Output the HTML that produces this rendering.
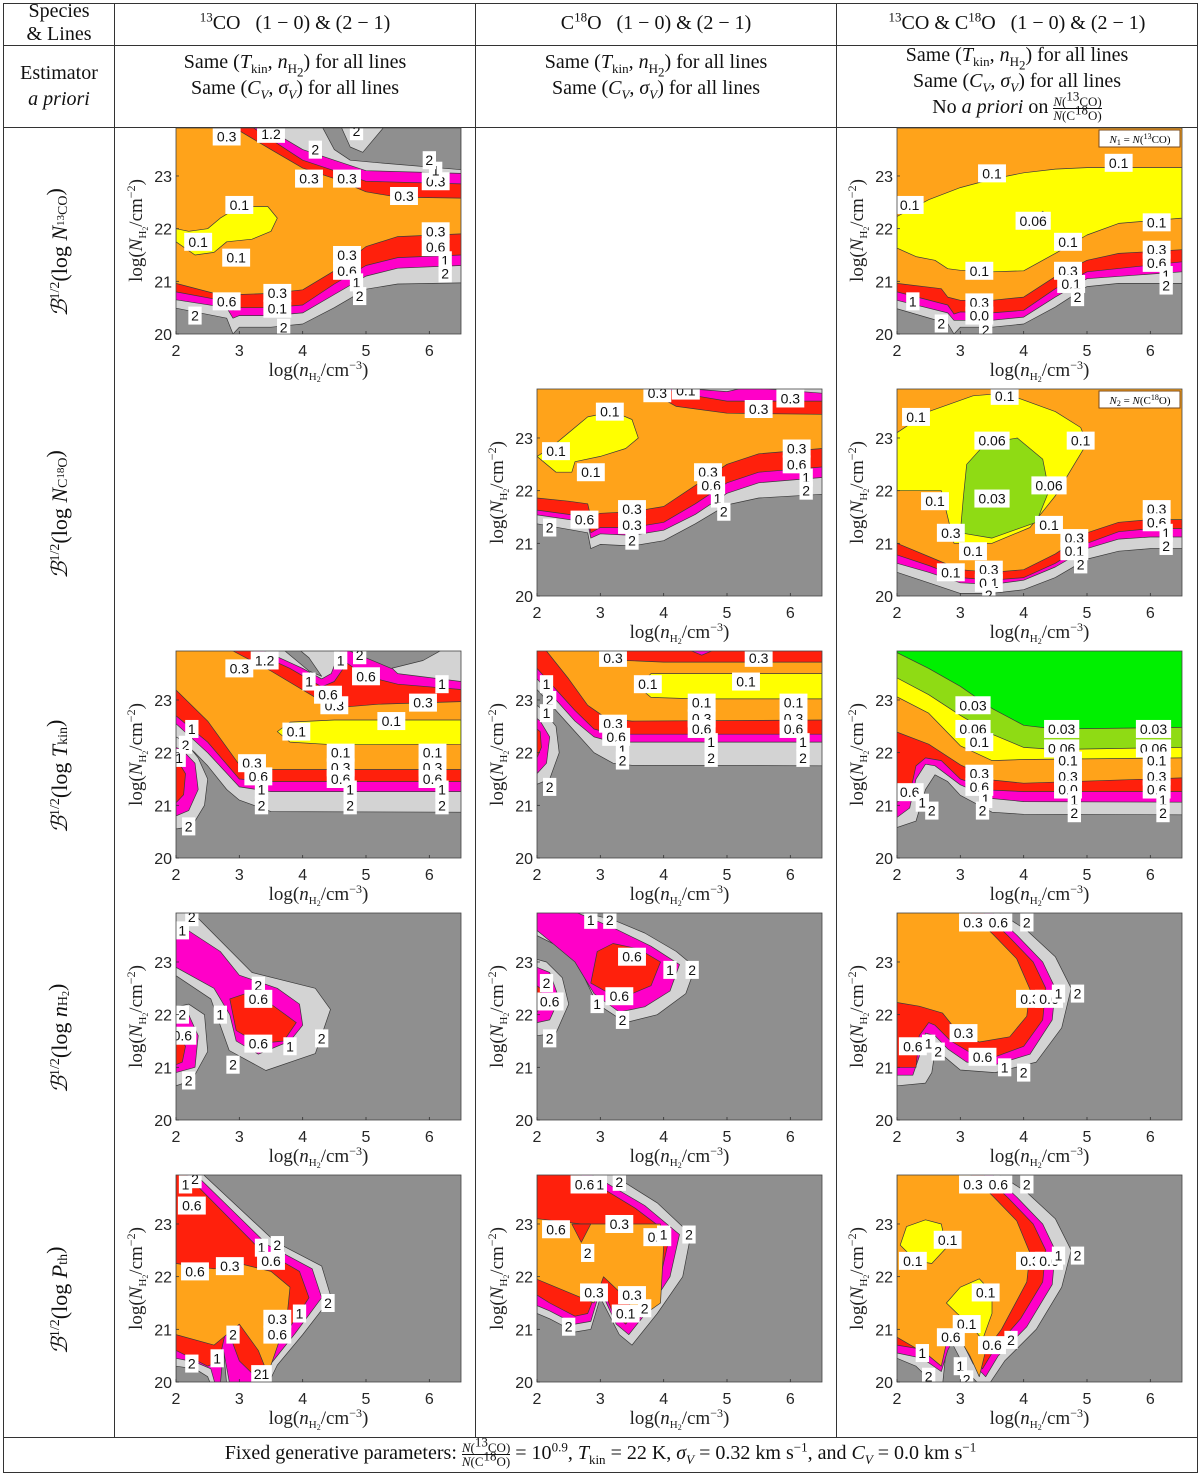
<!DOCTYPE html>
<html><head><meta charset="utf-8"><title>Bias maps</title>
<style>
html,body{margin:0;padding:0;background:#fff;}
#page{position:relative;width:1200px;height:1476px;overflow:hidden;font-family:"Liberation Serif",serif;color:#111;}
.hl{position:absolute;height:1px;background:#333;}
.vl{position:absolute;width:1px;background:#333;}
.ht{position:absolute;text-align:center;font-size:20px;line-height:24px;white-space:nowrap;}
.ht sub,.ht sup{font-size:13px;line-height:0;}
.frac{display:inline-block;vertical-align:middle;text-align:center;font-size:13px;line-height:13px;}
.frac span{display:block;}
.frac .num{border-bottom:1px solid #111;}
svg{position:absolute;left:0;top:0;}
</style></head><body>
<div id="page">
<div class="hl" style="left:3px;top:3px;width:1194px"></div>
<div class="hl" style="left:3px;top:45px;width:1194px"></div>
<div class="hl" style="left:3px;top:127px;width:1194px"></div>
<div class="hl" style="left:3px;top:1437px;width:1194px"></div>
<div class="hl" style="left:3px;top:1472px;width:1194px"></div>
<div class="vl" style="left:3px;top:3px;height:1470px"></div>
<div class="vl" style="left:1197px;top:3px;height:1470px"></div>
<div class="vl" style="left:114px;top:3px;height:1434px"></div>
<div class="vl" style="left:475px;top:3px;height:1434px"></div>
<div class="vl" style="left:836px;top:3px;height:1434px"></div>

<div class="ht" style="left:4px;top:0px;width:110px;line-height:23px">Species<br>&amp; Lines</div>
<div class="ht" style="left:115px;top:11px;width:360px"><sup>13</sup>CO&nbsp;&nbsp; (1 − 0) &amp; (2 − 1)</div>
<div class="ht" style="left:476px;top:11px;width:360px">C<sup>18</sup>O&nbsp;&nbsp; (1 − 0) &amp; (2 − 1)</div>
<div class="ht" style="left:837px;top:11px;width:360px"><sup>13</sup>CO &amp; C<sup>18</sup>O&nbsp;&nbsp; (1 − 0) &amp; (2 − 1)</div>

<div class="ht" style="left:4px;top:60px;width:110px;line-height:26px">Estimator<br><i>a priori</i></div>
<div class="ht" style="left:115px;top:49px;width:360px;line-height:26px">Same (<i>T</i><sub>kin</sub>, <i>n</i><sub>H<sub>2</sub></sub>) for all lines<br>Same (<i>C<sub>V</sub></i>, <i>σ<sub>V</sub></i>) for all lines</div>
<div class="ht" style="left:476px;top:49px;width:360px;line-height:26px">Same (<i>T</i><sub>kin</sub>, <i>n</i><sub>H<sub>2</sub></sub>) for all lines<br>Same (<i>C<sub>V</sub></i>, <i>σ<sub>V</sub></i>) for all lines</div>
<div class="ht" style="left:837px;top:42px;width:360px;line-height:26px">Same (<i>T</i><sub>kin</sub>, <i>n</i><sub>H<sub>2</sub></sub>) for all lines<br>Same (<i>C<sub>V</sub></i>, <i>σ<sub>V</sub></i>) for all lines<br>No <i>a priori</i> on <span class="frac"><span class="num"><i>N</i>(<sup>13</sup>CO)</span><span><i>N</i>(C<sup>18</sup>O)</span></span></div>

<div class="ht" style="left:4px;top:1441px;width:1193px">Fixed generative parameters: <span class="frac"><span class="num"><i>N</i>(<sup>13</sup>CO)</span><span><i>N</i>(C<sup>18</sup>O)</span></span> = 10<sup>0.9</sup>, <i>T</i><sub>kin</sub> = 22 K, <i>σ<sub>V</sub></i> = 0.32 km s<sup>−1</sup>, and <i>C<sub>V</sub></i> = 0.0 km s<sup>−1</sup></div>

<svg id="fig" width="1200" height="1476" xmlns="http://www.w3.org/2000/svg"></svg>
</div>
<script>
// ---- axis domain ----
const xTicks = [2, 3, 4, 5, 6];
const yTicks = [20, 21, 22, 23];
const xDomain = [2, 6.5];
const yDomain = [20, 23.93];

// ---- panel data: [colorKey, type, points]; "A" = region above curve, "P" = closed region ----
const p11Layers = [
 ["lg","A",[[2,20.49],[2.8,20.3],[2.9,20.0],[3,20.13],[3.5,20.13],[4,20.19],[4.5,20.5],[5,20.85],[5.5,20.95],[6.5,20.97]]],
 ["m","A",[[2,20.65],[2.8,20.5],[2.9,20.3],[3,20.35],[3.5,20.35],[4,20.4],[4.5,20.75],[5,21.1],[5.5,21.25],[6.5,21.3]]],
 ["r","A",[[2,20.8],[2.8,20.62],[2.9,20.45],[3,20.5],[3.5,20.5],[4,20.55],[4.5,20.95],[5,21.3],[5.5,21.45],[6.5,21.5]]],
 ["o","A",[[2,20.96],[2.8,20.71],[3,20.75],[3.5,20.77],[4,20.84],[4.5,21.2],[5,21.66],[5.5,21.85],[6.5,21.9]]],
 ["r","A",[[2,24.2],[2.85,24.2],[2.9,23.93],[3.5,23.5],[4,23.15],[4.5,22.95],[5,22.7],[5.5,22.6],[6.5,22.58]]],
 ["m","A",[[2,24.2],[3.15,24.2],[3.2,23.93],[4,23.3],[4.5,23.1],[5,22.9],[6.5,22.85]]],
 ["lg","A",[[2,24.2],[3.35,24.2],[3.4,23.93],[4,23.5],[4.5,23.3],[5,23.1],[6.5,23.05]]],
 ["g","P",[[4.3,23.95],[4.5,23.5],[4.75,23.3],[5.2,23.25],[6.5,23.12],[6.5,23.95]]],
 ["lg","P",[[4.6,23.95],[4.75,23.55],[4.95,23.45],[5.3,23.95]]],
 ["y","P",[[2,21.75],[2.3,21.5],[2.6,21.55],[2.8,21.75],[3.2,21.8],[3.5,21.95],[3.6,22.2],[3.45,22.42],[3.0,22.42],[2.7,22.2],[2.5,22.0],[2.2,21.95],[2,22.0]]]
];
const p11Labels = [[2.3,20.35,"2"],[2.8,20.62,"0.6"],[3.6,20.78,"0.3"],[3.6,20.48,"0.1"],[3.7,20.12,"2"],[4.7,21.5,"0.3"],[4.7,21.2,"0.6"],[4.85,20.98,"1"],[4.9,20.72,"2"],[6.1,21.95,"0.3"],[6.1,21.65,"0.6"],[6.25,21.4,"1"],[6.25,21.15,"2"],[2.35,21.75,"0.1"],[3.0,22.45,"0.1"],[2.95,21.45,"0.1"],[4.1,22.95,"0.3"],[4.7,22.95,"0.3"],[5.6,22.62,"0.3"],[6.1,22.9,"0.3"],[6.1,23.1,"1"],[6.0,23.3,"2"],[2.8,23.75,"0.3"],[3.5,23.8,"1.2"],[4.2,23.5,"2"],[4.85,23.85,"2"]];

const p13Layers = [
 ["lg","A",[[2,20.48],[2.8,20.2],[2.9,20.0],[3,20.13],[3.5,20.13],[4,20.19],[4.5,20.51],[5,20.9],[5.5,20.96],[6.5,20.96]]],
 ["m","A",[[2,20.64],[2.8,20.4],[2.9,20.26],[3.5,20.26],[4,20.32],[4.5,20.7],[5,21.05],[6.5,21.18]]],
 ["r","A",[[2,20.8],[2.8,20.55],[2.9,20.38],[3,20.42],[3.5,20.4],[4,20.45],[4.5,20.86],[5,21.18],[6.5,21.37]]],
 ["o","A",[[2,20.96],[2.7,20.86],[2.8,20.7],[3,20.64],[3.5,20.64],[4,20.7],[4.5,21.09],[5,21.4],[5.5,21.53],[6.5,21.6]]],
 ["y","P",[[2,22.23],[2.5,22.55],[3,22.78],[3.5,22.94],[4,23.06],[4.5,23.13],[5,23.16],[6.5,23.16],[6.5,22.2],[5.5,22.1],[5,21.88],[4.5,21.53],[4,21.2],[3.5,21.18],[3,21.21],[2.8,21.24],[2.6,21.4],[2.3,21.47],[2,21.63]]],
 ["yg","P",[[4.02,22.0],[4.3,22.33],[4.42,22.2],[4.1,21.98]]]
];
const p13Labels = [[2.2,22.45,"0.1"],[3.5,23.05,"0.1"],[5.5,23.25,"0.1"],[4.15,22.15,"0.06"],[6.1,22.12,"0.1"],[4.7,21.75,"0.1"],[3.3,21.2,"0.1"],[6.1,21.6,"0.3"],[6.1,21.35,"0.6"],[6.25,21.12,"1"],[6.25,20.92,"2"],[4.7,21.2,"0.3"],[4.75,20.95,"0.1"],[4.85,20.7,"2"],[3.3,20.6,"0.3"],[3.3,20.35,"0.0"],[3.4,20.08,"2"],[2.25,20.62,"1"],[2.7,20.2,"2"]];

const p22Layers = [
 ["lg","A",[[2,21.37],[2.8,21.2],[2.85,20.9],[3,20.98],[3.5,20.95],[4,21.05],[4.5,21.37],[5,21.73],[5.5,21.86],[6.5,21.93]]],
 ["m","A",[[2,21.54],[2.8,21.4],[2.85,21.1],[3,21.18],[3.5,21.15],[4,21.25],[4.5,21.55],[5,21.95],[5.5,22.15],[6.5,22.25]]],
 ["r","A",[[2,21.63],[2.8,21.5],[2.85,21.2],[3,21.3],[3.5,21.3],[4,21.4],[4.5,21.75],[5,22.15],[5.5,22.35],[6.5,22.45]]],
 ["o","A",[[2,21.86],[2.5,21.8],[2.8,21.75],[2.85,21.5],[3,21.57],[3.5,21.6],[4,21.7],[4.5,22.1],[5,22.5],[5.5,22.7],[6.5,22.8]]],
 ["r","A",[[2,24.2],[3.65,24.2],[3.7,23.93],[4.2,23.6],[5,23.47],[6.5,23.45]]],
 ["m","A",[[2,24.2],[3.95,24.2],[4.0,23.93],[4.5,23.8],[5,23.7],[6.5,23.7]]],
 ["lg","A",[[2,24.2],[4.4,24.2],[4.45,23.93],[5,23.88],[5.3,23.96],[6.5,23.85]]],
 ["y","P",[[2,22.65],[2.3,22.35],[2.55,22.35],[2.6,22.55],[3,22.65],[3.4,22.8],[3.6,23.0],[3.5,23.35],[3.2,23.5],[2.8,23.4],[2.5,23.1],[2.2,22.8]]]
];
const p22Labels = [[3.15,23.5,"0.1"],[2.3,22.75,"0.1"],[2.85,22.35,"0.1"],[6.1,22.8,"0.3"],[6.1,22.5,"0.6"],[6.25,22.25,"1"],[6.25,22.0,"2"],[4.7,22.35,"0.3"],[4.75,22.1,"0.6"],[4.85,21.85,"1"],[4.95,21.6,"2"],[3.5,21.65,"0.3"],[3.5,21.35,"0.3"],[3.5,21.05,"2"],[2.75,21.45,"0.6"],[2.2,21.3,"2"],[3.9,23.85,"0.3"],[4.35,23.9,"0.1"],[5.5,23.55,"0.3"],[6.0,23.75,"0.3"]];

const p23Layers = [
 ["lg","A",[[2,20.45],[2.5,20.25],[3,20.05],[3.5,20.05],[4,20.12],[4.5,20.35],[5,20.7],[5.5,20.85],[6,20.9],[6.5,20.9]]],
 ["m","A",[[2,20.62],[2.5,20.45],[3,20.25],[3.5,20.22],[4,20.3],[4.5,20.55],[5,20.9],[5.5,21.08],[6,21.12],[6.5,21.12]]],
 ["r","A",[[2,20.78],[2.5,20.58],[3,20.35],[3.5,20.3],[4,20.35],[4.5,20.62],[5,21.0],[5.5,21.22],[6,21.28],[6.5,21.28]]],
 ["o","A",[[2,21.0],[2.5,20.75],[3,20.5],[3.5,20.45],[4,20.5],[4.5,20.8],[5,21.2],[5.5,21.4],[6,21.45],[6.5,21.45]]],
 ["y","P",[[2,23.1],[2.5,23.5],[3.2,23.8],[3.7,23.85],[4.5,23.5],[4.9,23.2],[5.0,22.9],[4.8,22.5],[4.5,21.9],[4.1,21.3],[3.5,21.0],[2.9,21.0],[2.8,21.5],[2.7,22.0],[2,22.0]]],
 ["yg","P",[[3.0,21.2],[3.05,21.9],[3.1,22.5],[3.4,22.9],[3.9,23.0],[4.3,22.6],[4.4,22.0],[4.2,21.4],[3.5,21.1]]]
];
const p23Labels = [[3.7,23.8,"0.1"],[2.3,23.4,"0.1"],[4.9,22.95,"0.1"],[3.5,22.95,"0.06"],[4.4,22.1,"0.06"],[3.5,21.85,"0.03"],[2.6,21.8,"0.1"],[4.4,21.35,"0.1"],[3.2,20.85,"0.1"],[2.85,21.2,"0.3"],[2.85,20.45,"0.1"],[3.45,20.5,"0.3"],[3.45,20.25,"0.1"],[3.45,20.02,"2"],[4.8,21.1,"0.3"],[4.8,20.85,"0.1"],[4.9,20.6,"2"],[6.1,21.65,"0.3"],[6.1,21.4,"0.6"],[6.25,21.2,"1"],[6.25,20.95,"2"]];

const p31Layers = [
 ["lg","A",[[2,22.3],[2.3,22.0],[2.5,21.75],[2.8,21.3],[3,21.1],[3.5,20.88],[6.5,20.87]]],
 ["m","A",[[2,22.55],[2.5,22.0],[3,21.35],[3.5,21.26],[6.5,21.26]]],
 ["r","A",[[2,22.7],[2.5,22.2],[3,21.5],[3.5,21.45],[6.5,21.45]]],
 ["o","A",[[2,23.19],[2.5,22.6],[3,21.77],[3.5,21.68],[6.5,21.68]]],
 ["lg","P",[[2,20.55],[2.25,20.6],[2.45,21.0],[2.5,21.5],[2.35,21.9],[2.15,22.2],[2,22.3]]],
 ["m","P",[[2,20.8],[2.2,20.9],[2.35,21.3],[2.3,21.8],[2.1,22.05],[2,22.1]]],
 ["r","P",[[2,21.05],[2.12,21.2],[2.15,21.6],[2.05,21.8],[2,21.85]]],
 ["y","P",[[3.6,22.4],[3.8,22.58],[4.5,22.62],[6.5,22.62],[6.5,22.16],[4.5,22.15],[3.8,22.2]]],
 ["r","A",[[2,24.2],[2.85,24.2],[2.9,23.93],[3.5,23.55],[4.2,23.05],[4.7,22.87],[5.2,22.92],[6.5,22.97]]],
 ["m","A",[[2,24.2],[3.15,24.2],[3.2,23.93],[3.8,23.6],[4.3,23.25],[4.5,23.35],[4.7,23.7],[5.0,23.45],[5.5,23.3],[6.5,23.2]]],
 ["lg","A",[[2,24.2],[3.35,24.2],[3.4,23.93],[4.0,23.6],[4.3,23.4],[4.45,23.5],[4.6,23.96],[5.1,23.96],[5.5,23.5],[6.5,23.35]]],
 ["g","P",[[4.7,23.95],[5.4,23.6],[5.9,23.75],[6.2,23.95]]],
 ["g","P",[[3.7,23.95],[4.1,23.55],[4.3,23.45],[4.1,23.8],[3.95,23.95]]]
];
const p31Labels = [[2.25,22.45,"1"],[2.15,22.15,"2"],[2.05,21.9,"1"],[2.2,20.6,"2"],[3.2,21.8,"0.3"],[3.3,21.55,"0.6"],[3.35,21.3,"1"],[3.35,21.0,"2"],[4.6,22.0,"0.1"],[4.6,21.72,"0.3"],[4.6,21.5,"0.6"],[4.75,21.3,"1"],[4.75,21.0,"2"],[6.05,22.0,"0.1"],[6.05,21.72,"0.3"],[6.05,21.5,"0.6"],[6.2,21.3,"1"],[6.2,21.0,"2"],[3.9,22.4,"0.1"],[5.4,22.6,"0.1"],[4.5,22.9,"0.3"],[5.9,22.95,"0.3"],[6.2,23.3,"1"],[5.0,23.45,"0.6"],[4.4,23.1,"0.6"],[4.1,23.35,"1"],[3.0,23.6,"0.3"],[3.4,23.75,"1.2"],[4.6,23.75,"1"],[4.9,23.85,"2"]];

const p32Layers = [
 ["lg","A",[[2,23.2],[2.3,22.8],[2.6,22.4],[2.9,22.0],[3.2,21.8],[3.5,21.76],[6.5,21.75]]],
 ["m","A",[[2,23.4],[2.3,23.0],[2.6,22.6],[2.9,22.3],[3.2,22.2],[6.5,22.2]]],
 ["r","A",[[2,23.6],[2.3,23.2],[2.6,22.8],[2.9,22.45],[3.2,22.35],[6.5,22.35]]],
 ["o","A",[[2,24.2],[2.15,23.93],[2.5,23.4],[2.8,22.9],[3.1,22.65],[3.5,22.6],[6.5,22.62]]],
 ["lg","P",[[2,21.4],[2.2,21.5],[2.35,22.0],[2.3,22.5],[2.1,22.8],[2,22.9]]],
 ["m","P",[[2,21.6],[2.15,21.8],[2.2,22.3],[2.05,22.6],[2,22.65]]],
 ["r","P",[[2,21.9],[2.07,22.1],[2.05,22.4],[2,22.45]]],
 ["y","P",[[3.6,23.25],[3.8,23.5],[4.5,23.5],[6.5,23.5],[6.5,23.02],[4.5,23.02],[3.8,23.05]]],
 ["r","A",[[2,24.2],[2.95,24.2],[3.0,23.93],[3.4,23.75],[4,23.72],[6.5,23.72]]],
 ["m","P",[[4.4,23.95],[4.6,23.85],[4.8,23.95]]]
];
const p32Labels = [[2.15,23.3,"1"],[2.2,23.0,"2"],[2.15,22.75,"1"],[2.2,21.35,"2"],[3.2,22.55,"0.3"],[3.25,22.3,"0.6"],[3.35,22.05,"1"],[3.35,21.85,"2"],[4.6,22.95,"0.1"],[4.6,22.65,"0.3"],[4.6,22.45,"0.6"],[4.75,22.2,"1"],[4.75,21.9,"2"],[6.05,22.95,"0.1"],[6.05,22.65,"0.3"],[6.05,22.45,"0.6"],[6.2,22.2,"1"],[6.2,21.9,"2"],[3.75,23.3,"0.1"],[5.3,23.35,"0.1"],[3.2,23.8,"0.3"],[5.5,23.8,"0.3"]];

const p33Layers = [
 ["lg","A",[[2,20.58],[2.3,20.7],[2.45,21.3],[2.6,21.58],[2.8,21.45],[3,21.19],[3.5,20.87],[4,20.83],[6.5,20.82]]],
 ["m","A",[[2,20.77],[2.2,20.95],[2.3,21.5],[2.45,21.78],[2.6,21.75],[3,21.39],[3.5,21.13],[4,21.07],[6.5,21.06]]],
 ["r","A",[[2,21.06],[2.2,21.2],[2.3,21.75],[2.45,21.9],[2.7,21.85],[3,21.5],[3.5,21.29],[4,21.26],[6.5,21.26]]],
 ["o","A",[[2,22.39],[2.5,22.16],[3,21.77],[3.5,21.48],[4,21.42],[6.5,21.52]]],
 ["y","A",[[2,23.06],[2.5,22.75],[3,22.13],[3.5,21.85],[4,21.87],[6.5,21.9]]],
 ["yg","A",[[2,23.42],[2.5,23.1],[3,22.71],[3.5,22.35],[4,22.1],[4.5,22.06],[6.5,22.1]]],
 ["gr","A",[[2,23.9],[2.5,23.6],[3,23.26],[3.5,22.84],[4,22.52],[4.5,22.45],[6.5,22.48]]]
];
const p33Labels = [[3.2,22.9,"0.03"],[4.6,22.45,"0.03"],[6.05,22.45,"0.03"],[3.2,22.45,"0.06"],[4.6,22.08,"0.06"],[6.05,22.08,"0.06"],[3.3,22.2,"0.1"],[4.7,21.85,"0.1"],[6.1,21.85,"0.1"],[3.3,21.6,"0.3"],[4.7,21.55,"0.3"],[6.1,21.55,"0.3"],[3.3,21.35,"0.6"],[4.7,21.3,"0.0"],[6.1,21.3,"0.6"],[3.4,21.12,"1"],[4.8,21.1,"1"],[6.2,21.1,"1"],[3.35,20.9,"2"],[4.8,20.85,"2"],[6.2,20.85,"2"],[2.2,21.25,"0.6"],[2.4,21.05,"1"],[2.55,20.9,"2"]];

const p41Layers = [
 ["lg","P",[[2,23.95],[2.25,23.95],[3.2,22.8],[4.2,22.5],[4.44,22.1],[4.2,21.26],[3.42,20.94],[2.84,21.32],[2.55,22.3],[2,22.74]]],
 ["m","P",[[2,23.75],[2.7,23.2],[3.0,22.75],[3.6,22.5],[3.95,22.2],[4.0,21.8],[3.8,21.5],[3.3,21.25],[2.95,21.5],[2.85,22.0],[2.6,22.5],[2,22.9]]],
 ["r","P",[[2.85,22.3],[3.1,22.4],[3.5,22.2],[3.9,21.85],[3.7,21.5],[3.3,21.45],[2.95,21.7]]],
 ["lg","P",[[2,20.65],[2.25,20.75],[2.5,21.3],[2.45,22.0],[2.2,22.2],[2,22.15]]],
 ["m","P",[[2,20.9],[2.3,21.0],[2.35,21.6],[2.2,22.0],[2,22.05]]],
 ["r","P",[[2,21.05],[2.1,21.1],[2.15,21.4],[2,21.7]]]
];
const p41Labels = [[2.1,23.6,"1"],[2.25,23.85,"2"],[3.3,22.55,"2"],[3.3,22.3,"0.6"],[2.7,22.0,"1"],[3.3,21.45,"0.6"],[3.8,21.4,"1"],[4.3,21.55,"2"],[2.9,21.05,"2"],[2.1,22.0,"2"],[2.1,21.6,"0.6"],[2.2,20.75,"2"]];

const p42Layers = [
 ["lg","P",[[2,23.95],[2.7,23.95],[3.2,23.8],[3.7,23.55],[4.2,23.2],[4.5,22.9],[4.35,22.4],[3.9,22.0],[3.4,21.85],[2.95,22.2],[2.75,22.7],[2.5,23.2],[2.0,23.5]]],
 ["m","P",[[2,23.95],[2.6,23.95],[3.2,23.65],[3.8,23.3],[4.25,22.95],[4.1,22.45],[3.7,22.15],[3.3,22.05],[2.9,22.4],[2.6,23.0],[2.2,23.4],[2,23.6]]],
 ["r","P",[[2.85,22.6],[2.95,23.2],[3.2,23.35],[3.6,23.25],[3.95,23.0],[3.8,22.55],[3.3,22.3]]],
 ["lg","P",[[2,21.6],[2.3,21.65],[2.5,22.2],[2.4,22.7],[2.15,23.0],[2,23.05]]],
 ["m","P",[[2,21.85],[2.2,21.9],[2.35,22.3],[2.2,22.8],[2,22.9]]],
 ["r","P",[[2,22.05],[2.1,22.2],[2.05,22.5],[2,22.55]]]
];
const p42Labels = [[2.85,23.8,"1"],[3.15,23.8,"2"],[3.5,23.1,"0.6"],[4.1,22.85,"1"],[4.45,22.85,"2"],[3.3,22.35,"0.6"],[2.95,22.2,"1"],[3.35,21.9,"2"],[2.15,22.6,"2"],[2.2,22.25,"0.6"],[2.2,21.55,"2"]];

const p43Layers = [
 ["lg","P",[[2,23.95],[3.6,23.95],[4.05,23.6],[4.5,23.1],[4.75,22.5],[4.6,21.75],[4.2,21.1],[3.55,20.9],[3.0,20.95],[2.75,21.2],[2.6,21.3],[2.55,20.9],[2.45,20.7],[2,20.65]]],
 ["m","P",[[2,23.95],[3.5,23.95],[3.9,23.5],[4.3,23.0],[4.5,22.5],[4.45,21.9],[4.1,21.25],[3.55,21.05],[3.1,21.1],[2.8,21.35],[2.6,21.6],[2.45,21.65],[2.35,21.2],[2.25,20.85],[2,20.85]]],
 ["r","P",[[2,23.95],[3.36,23.95],[3.75,23.5],[4.15,23.0],[4.35,22.5],[4.3,21.9],[4.0,21.4],[3.55,21.2],[3.2,21.25],[2.85,21.5],[2.6,21.8],[2.5,21.85],[2.35,21.6],[2.3,21.0],[2,21.0]]],
 ["o","P",[[2,23.95],[3.15,23.95],[3.52,23.52],[3.89,23.06],[4.1,22.48],[4.05,21.97],[3.78,21.58],[3.3,21.48],[2.94,21.7],[2.72,22.03],[2.35,22.16],[2,22.23]]]
];
const p43Labels = [[3.2,23.75,"0.3"],[3.6,23.75,"0.6"],[4.05,23.75,"2"],[4.1,22.3,"0.3"],[4.4,22.3,"0.6"],[4.55,22.4,"1"],[4.85,22.4,"2"],[3.05,21.65,"0.3"],[3.35,21.2,"0.6"],[3.7,21.0,"1"],[4.0,20.9,"2"],[2.25,21.4,"0.6"],[2.5,21.45,"1"],[2.65,21.3,"2"]];

const p51Layers = [
 ["lg","P",[[2,23.95],[2.42,23.95],[3.57,22.66],[4.3,22.2],[4.45,21.6],[4.0,20.9],[3.6,20.32],[3.45,19.95],[2.8,19.95],[2.73,20.9],[2.62,19.95],[2.0,19.95]]],
 ["m","P",[[2,23.95],[2.3,23.95],[3.45,22.6],[4.15,22.15],[4.3,21.6],[3.88,20.92],[3.5,20.35],[3.36,19.95],[2.85,19.95],[2.75,20.6],[2.7,19.95],[2,19.95]]],
 ["r","P",[[2,23.95],[2.15,23.95],[3.3,22.55],[3.95,22.1],[4.1,21.6],[3.75,20.95],[3.42,20.4],[3.3,20.05],[3.0,20.4],[2.8,21.05],[2.68,20.4],[2.5,20.3],[2,20.6]]],
 ["o","P",[[2,22.25],[2.6,22.15],[3.0,22.25],[3.5,22.1],[3.8,21.8],[3.75,21.2],[3.55,20.5],[3.45,20.15],[3.3,20.6],[3.0,21.1],[2.85,20.95],[2.6,20.7],[2,20.9]]],
 ["lg","P",[[2,19.95],[2.0,20.45],[2.3,20.38],[2.55,20.25],[2.62,19.95]]],
 ["g","P",[[2,19.95],[2,20.3],[2.3,20.25],[2.5,20.1],[2.55,19.95]]]
];
const p51Labels = [[2.15,23.75,"1"],[2.3,23.85,"2"],[2.25,23.35,"0.6"],[3.35,22.55,"1"],[3.6,22.6,"2"],[3.5,22.3,"0.6"],[2.3,22.1,"0.6"],[2.85,22.2,"0.3"],[3.6,21.2,"0.3"],[3.6,20.9,"0.6"],[3.95,21.3,"1"],[4.4,21.5,"2"],[2.9,20.9,"2"],[2.65,20.45,"1"],[2.25,20.35,"2"],[3.35,20.15,"21"]];

const p52Layers = [
 ["lg","P",[[2,23.95],[3.17,23.95],[3.9,23.4],[4.43,22.8],[4.3,22.0],[3.9,21.3],[3.5,20.7],[3.3,20.9],[3.0,21.6],[2.85,21.0],[2.6,20.95],[2.2,21.2],[2,21.3]]],
 ["m","P",[[2,23.95],[2.85,23.95],[3.7,23.35],[4.25,22.8],[4.1,22.0],[3.75,21.35],[3.45,20.9],[3.25,21.1],[3.0,21.75],[2.85,21.15],[2.6,21.1],[2.2,21.35],[2,21.45]]],
 ["r","P",[[2,23.95],[2.66,23.95],[3.55,23.3],[4.1,22.8],[3.95,22.0],[3.6,21.4],[3.4,21.1],[3.2,21.3],[3.0,21.9],[2.8,21.3],[2.6,21.25],[2.2,21.5],[2,21.65]]],
 ["o","P",[[2,23.1],[2.7,23.0],[3.95,23.0],[4.0,22.6],[3.95,21.5],[3.6,21.2],[3.4,21.6],[3.05,22.0],[2.9,21.5],[2.7,21.6],[2.3,21.8],[2,21.95]]],
 ["r","P",[[2.55,23.0],[2.7,22.65],[2.85,23.0]]]
];
const p52Labels = [[2.75,23.75,"0.6"],[3.0,23.75,"1"],[3.3,23.8,"2"],[2.3,22.9,"0.6"],[3.3,23.0,"0.3"],[3.9,22.75,"0.6"],[4.0,22.8,"1"],[4.4,22.8,"2"],[2.8,22.45,"2"],[2.9,21.7,"0.3"],[3.5,21.65,"0.3"],[3.4,21.3,"0.1"],[3.7,21.4,"2"],[2.5,21.05,"2"]];

const p53Layers = [
 ["lg","P",[[2,23.95],[3.6,23.95],[4.05,23.6],[4.5,23.1],[4.75,22.5],[4.6,21.8],[4.2,21.0],[3.7,20.4],[3.45,19.95],[3.3,19.95],[3.1,20.2],[2.8,20.9],[2.72,19.95],[2.6,19.95],[2.3,20.3],[2,20.45]]],
 ["m","P",[[2,23.95],[3.5,23.95],[3.9,23.5],[4.3,23.0],[4.5,22.5],[4.45,21.85],[4.05,21.05],[3.6,20.5],[3.4,20.1],[3.2,20.35],[2.95,20.95],[2.8,20.6],[2.7,20.2],[2.4,20.45],[2,20.55]]],
 ["r","P",[[2,23.95],[3.36,23.95],[3.75,23.5],[4.15,23.0],[4.35,22.5],[4.3,21.9],[3.95,21.2],[3.55,20.65],[3.35,20.25],[3.2,20.55],[3.0,21.05],[2.8,20.95],[2.7,20.5],[2.5,20.6],[2,20.7]]],
 ["o","P",[[2,23.95],[3.15,23.95],[3.52,23.52],[3.89,23.06],[4.1,22.45],[4.05,21.9],[3.85,21.45],[3.65,21.0],[3.4,20.6],[3.3,20.1],[3.15,20.5],[2.95,20.9],[2.8,20.85],[2.7,20.3],[2.5,20.5],[2,20.85]]],
 ["y","P",[[2.05,22.6],[2.3,22.3],[2.55,22.25],[2.78,22.55],[2.7,23.0],[2.45,23.08],[2.15,22.95]]],
 ["y","P",[[2.78,21.5],[3.0,21.8],[3.3,21.96],[3.5,21.7],[3.5,21.3],[3.35,20.8],[3.15,21.1],[2.95,21.3]]]
];
const p53Labels = [[3.2,23.75,"0.3"],[3.6,23.75,"0.6"],[4.05,23.75,"2"],[2.25,22.3,"0.1"],[2.8,22.7,"0.1"],[3.4,21.7,"0.1"],[3.1,21.1,"0.1"],[2.85,20.85,"0.6"],[3.5,20.7,"0.6"],[3.8,20.8,"2"],[4.1,22.3,"0.3"],[4.4,22.3,"0.6"],[4.55,22.4,"1"],[4.85,22.4,"2"],[2.4,20.55,"1"],[2.5,20.1,"2"],[3.0,20.3,"1"],[3.1,20.05,"2"]];

// ---- layout ----
const COLORS = {g:"#8f8f8f", lg:"#d3d3d3", m:"#ff00c8", r:"#ff200c", o:"#ffa31a", y:"#ffff00", yg:"#8fdb14", gr:"#00f000"};
const colLeft = [176, 537, 897];
const rowBottom = [334, 596, 858, 1120, 1382];
const PW = 285, PH = 207;
const NS = "http://www.w3.org/2000/svg";
const svg = document.getElementById("fig");

function mk(tag, attrs, parent){
  const e = document.createElementNS(NS, tag);
  for (const k in attrs) e.setAttribute(k, attrs[k]);
  parent.appendChild(e);
  return e;
}

function drawPanel(key, ci, ri, layers, labels, inset){
  const left = colLeft[ci], bottom = rowBottom[ri], top = bottom - PH;
  const X = v => left + (v - xDomain[0]) / (xDomain[1] - xDomain[0]) * PW;
  const Y = v => bottom - (v - yDomain[0]) / (yDomain[1] - yDomain[0]) * PH;
  const g = mk("g", {}, svg);
  
  
  const cp = mk("clipPath", {id: "clip-" + key}, g);
  mk("rect", {x: left, y: Math.max(top, 128), width: PW, height: bottom - Math.max(top, 128)}, cp);
  const plot = mk("g", {"clip-path": "url(#clip-" + key + ")"}, g);
  const bg = mk("rect", {x: left, y: top, width: PW, height: PH, fill: COLORS.g}, plot);
  
  
  layers.forEach(function(L){
    let pts = L[2].map(p => [X(p[0]), Y(p[1])]);
    if (L[1] === "A") {
      const f = pts[0], l = pts[pts.length - 1];
      pts = [[left - 5, f[1]]].concat(pts, [[left + PW + 5, l[1]], [left + PW + 5, top - 20], [left - 5, top - 20]]);
    }
    const poly = mk("polygon", {points: pts.map(p => p[0].toFixed(1) + "," + p[1].toFixed(1)).join(" "), fill: COLORS[L[0]], stroke: "#3a3a3a", "stroke-width": "0.7", "stroke-linejoin": "round"}, plot);
    
    
  });
  labels.forEach(function(lb){
    const cx = X(lb[0]), cy = Y(lb[1]);
    const w = lb[2].length * 7.3 + 6;
    const lg = mk("g", {}, plot);
    
    
    mk("rect", {x: cx - w / 2, y: cy - 9, width: w, height: 18, fill: "#fff"}, lg);
    const t = mk("text", {x: cx, y: cy + 5, "text-anchor": "middle", "font-family": "Liberation Sans, sans-serif", "font-size": "14", fill: "#111"}, lg);
    t.textContent = lb[2];
  });
  if (inset) {
    const ig = mk("g", {}, g);
    
    
    mk("rect", {x: left + PW - 83, y: Math.max(top, 128) + 2, width: 81, height: 17, fill: "#fff", stroke: "#7a4a1a", "stroke-width": "1"}, ig);
    const it = mk("text", {x: left + PW - 42, y: Math.max(top, 128) + 15, "text-anchor": "middle", "font-family": "Liberation Serif, serif", "font-size": "11"}, ig);
    it.innerHTML = inset;
  }
  mk("rect", {x: left, y: Math.max(top, 128), width: PW, height: bottom - Math.max(top, 128), fill: "none", stroke: "#444", "stroke-width": "0.8"}, g);
  xTicks.forEach(function(v){
    mk("line", {x1: X(v), x2: X(v), y1: bottom, y2: bottom - 3, stroke: "#333", "stroke-width": "0.8"}, g);
    const t = mk("text", {x: X(v), y: bottom + 22, "text-anchor": "middle", "font-family": "Liberation Sans, sans-serif", "font-size": "16", fill: "#262626"}, g);
    
    
    t.textContent = v;
  });
  yTicks.forEach(function(v){
    mk("line", {x1: left, x2: left + 3, y1: Y(v), y2: Y(v), stroke: "#333", "stroke-width": "0.8"}, g);
    const t = mk("text", {x: left - 4, y: Y(v) + 6, "text-anchor": "end", "font-family": "Liberation Sans, sans-serif", "font-size": "16", fill: "#262626"}, g);
    
    
    t.textContent = v;
  });
  const xt = mk("text", {x: left + PW / 2, y: bottom + 42, "text-anchor": "middle", "font-family": "Liberation Serif, serif", "font-size": "19", fill: "#222"}, g);
  
  
  xt.innerHTML = 'log(<tspan font-style="italic">n</tspan><tspan font-size="11" dy="4">H</tspan><tspan font-size="8" dy="2">2</tspan><tspan dy="-6">/cm</tspan><tspan font-size="12" dy="-7">−3</tspan><tspan dy="7">)</tspan>';
  const yt = mk("text", {transform: "translate(" + (left - 34) + "," + (bottom - PH / 2) + ") rotate(-90)", "text-anchor": "middle", "font-family": "Liberation Serif, serif", "font-size": "19", fill: "#222"}, g);
  
  
  yt.innerHTML = 'log(<tspan font-style="italic">N</tspan><tspan font-size="11" dy="4">H</tspan><tspan font-size="8" dy="2">2</tspan><tspan dy="-6">/cm</tspan><tspan font-size="12" dy="-7">−2</tspan><tspan dy="7">)</tspan>';
}

drawPanel("13co-n13co", 0, 0, p11Layers, p11Labels, null);
drawPanel("both-n13co", 2, 0, p13Layers, p13Labels, '<tspan font-style="italic">N</tspan><tspan font-size="8" dy="2">1</tspan><tspan dy="-2"> = </tspan><tspan font-style="italic">N</tspan>(<tspan font-size="8" dy="-4">13</tspan><tspan dy="4">CO)</tspan>');
drawPanel("c18o-nc18o", 1, 1, p22Layers, p22Labels, null);
drawPanel("both-nc18o", 2, 1, p23Layers, p23Labels, '<tspan font-style="italic">N</tspan><tspan font-size="8" dy="2">2</tspan><tspan dy="-2"> = </tspan><tspan font-style="italic">N</tspan>(C<tspan font-size="8" dy="-4">18</tspan><tspan dy="4">O)</tspan>');
drawPanel("13co-tkin", 0, 2, p31Layers, p31Labels, null);
drawPanel("c18o-tkin", 1, 2, p32Layers, p32Labels, null);
drawPanel("both-tkin", 2, 2, p33Layers, p33Labels, null);
drawPanel("13co-nh2", 0, 3, p41Layers, p41Labels, null);
drawPanel("c18o-nh2", 1, 3, p42Layers, p42Labels, null);
drawPanel("both-nh2", 2, 3, p43Layers, p43Labels, null);
drawPanel("13co-pth", 0, 4, p51Layers, p51Labels, null);
drawPanel("c18o-pth", 1, 4, p52Layers, p52Labels, null);
drawPanel("both-pth", 2, 4, p53Layers, p53Labels, null);

// row titles
const rowTitles = [
  ['log ', 'N', '13', 'CO', true],
  ['log ', 'N', '18', 'O', false],
  ['log ', 'T', '', 'kin', null],
  ['log ', 'n', '', 'H2', null],
  ['log ', 'P', '', 'th', null]
];
rowTitles.forEach(function(rt, i){
  const cy = rowBottom[i] - PH / 2 + 22;
  const t = mk("text", {transform: "translate(67," + cy + ") rotate(-90)", "text-anchor": "middle", "font-family": "Liberation Serif, DejaVu Serif, serif", "font-size": "22", fill: "#111"}, svg);
  
  
  let sub;
  if (rt[4] === true) sub = '<tspan font-size="11" dy="-3">13</tspan><tspan font-size="14" dy="3">CO</tspan>';
  else if (rt[4] === false) sub = '<tspan font-size="14">C</tspan><tspan font-size="11" dy="-3">18</tspan><tspan font-size="14" dy="3">O</tspan>';
  else if (rt[3] === 'H2') sub = '<tspan font-size="14">H</tspan><tspan font-size="10" dy="2">2</tspan><tspan dy="-2"></tspan>';
  else sub = '<tspan font-size="14">' + rt[3] + '</tspan>';
  t.innerHTML = '<tspan font-style="italic">ℬ</tspan><tspan font-size="14" dy="-8">1/2</tspan><tspan dy="8">(' + rt[0] + '</tspan><tspan font-style="italic">' + rt[1] + '</tspan><tspan dy="5"></tspan>' + sub + '<tspan dy="-5">)</tspan>';
});
</script>
</body></html>
